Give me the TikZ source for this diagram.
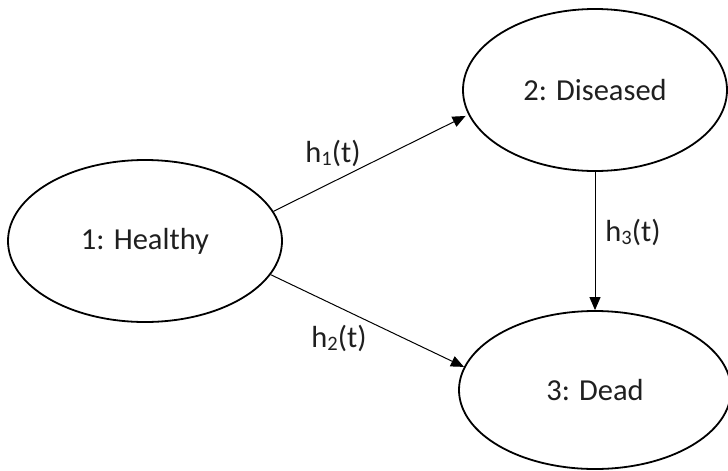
\documentclass[tikz,border=0pt]{standalone}
\usepackage{fontspec}
\setmainfont{Carlito}
\usetikzlibrary{shapes.geometric,arrows.meta}
\newcommand{\sbd}[1]{\raisebox{-0.12em}{\fontsize{20.5}{20.5}\selectfont #1}}
\tikzset{
  state/.style={ellipse, draw=black, line width=1.8pt, inner sep=0pt, font=\fontsize{30.5}{36}\selectfont, text=black!88},
  trans/.style={draw=black, line width=1pt, -{Triangle[length=13pt,width=11pt]}},
  lbl/.style={font=\fontsize{30.5}{36}\selectfont, text=black!88, inner sep=0pt}
}
\begin{document}
\begin{tikzpicture}[x=1pt,y=-1pt]
\useasboundingbox (0,0) rectangle (728,471);
\node[state, minimum width=274pt, minimum height=162pt] (H) at (145,241) {1: Healthy};
\node[state, minimum width=264pt, minimum height=162pt] (D) at (595,90) {2: Diseased};
\node[state, minimum width=272pt, minimum height=158pt] (X) at (595,390) {3: Dead};
\draw[trans, shorten >=3pt] (H.13) -- (D.191.5);
\draw[trans] (H.345) -- (X.170.8);
\draw[trans] (D.south) -- (X.north);
\node[lbl] (l1) at (333,153) {h\sbd{1}(t)};
\node[lbl] (l2) at (339,338) {h\sbd{2}(t)};
\node[lbl] (l3) at (633,232) {h\sbd{3}(t)};
\end{tikzpicture}
\end{document}
